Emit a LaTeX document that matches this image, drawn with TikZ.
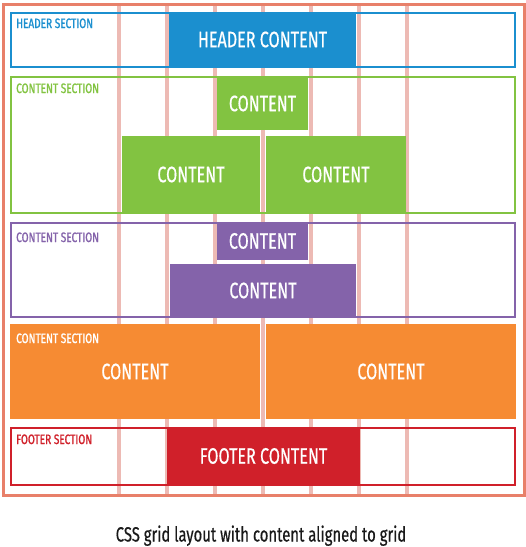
\documentclass[tikz,border=0pt]{standalone}
\usepackage{fontspec}
\setmainfont{Fira Sans}[FakeStretch=0.72, FakeBold=0.5]
\newfontfamily\labelfont{Fira Sans}[FakeStretch=0.74, FakeBold=1.2]
\usetikzlibrary{positioning}
\definecolor{gridpink}{RGB}{237,186,180}
\definecolor{framered}{RGB}{232,128,106}
\definecolor{headblue}{RGB}{27,143,207}
\definecolor{contgreen}{RGB}{130,195,65}
\definecolor{contpurple}{RGB}{132,99,170}
\definecolor{contorange}{RGB}{246,139,51}
\definecolor{footred}{RGB}{208,32,42}
\tikzset{
  gridline/.style={draw=gridpink, line width=4.4pt},
  sectionbox/.style={draw=#1, line width=2pt, anchor=north west,
    inner sep=0pt, outer sep=0pt},
  contentbox/.style={fill=#1, text=white, anchor=north west,
    inner sep=0pt, outer sep=0pt, font=\fontsize{22.4}{22.4}\selectfont},
  sectionlabel/.style={text=#1, anchor=base west, inner sep=0pt,
    font=\labelfont\fontsize{13.6}{13.6}\selectfont}
}

\begin{document}
\begin{tikzpicture}[x=1pt, y=-1pt]
\useasboundingbox (0,0) rectangle (526,547);

% grid columns
\foreach \x in {119,167,215,263,311,359,407}
  \draw[gridline] (\x,3) -- (\x,494);

% header
\node[sectionbox=headblue, minimum width=504pt, minimum height=54pt] (header) at (11,13) {};
\node[contentbox=headblue, minimum width=187pt, minimum height=55pt] (headcontent) at (169,12) {HEADER CONTENT};
\node[sectionlabel=headblue] (headlabel) at (16,28) {HEADER SECTION};

% green section
\node[sectionbox=contgreen, minimum width=504pt, minimum height=136pt] (greensec) at (11,77) {};
\node[contentbox=contgreen, minimum width=91pt, minimum height=53pt] (greentop) at (217,77) {CONTENT};
\node[contentbox=contgreen, minimum width=138pt, minimum height=77pt] (greenleft) at (122,136) {CONTENT};
\node[contentbox=contgreen, minimum width=140pt, minimum height=77pt] (greenright) at (266,136) {CONTENT};
\node[sectionlabel=contgreen] (greenlabel) at (16,93) {CONTENT SECTION};

% purple section
\node[sectionbox=contpurple, minimum width=504pt, minimum height=94pt] (purplesec) at (11,223) {};
\node[contentbox=contpurple, minimum width=91pt, minimum height=38pt] (purpletop) at (217,222) {CONTENT};
\node[contentbox=contpurple, minimum width=186pt, minimum height=53pt] (purplebottom) at (170,264) {CONTENT};
\node[sectionlabel=contpurple] (purplelabel) at (16,242) {CONTENT SECTION};

% orange section
\node[contentbox=contorange, minimum width=250pt, minimum height=95pt] (orangeleft) at (10,324) {CONTENT};
\node[contentbox=contorange, minimum width=250pt, minimum height=95pt] (orangeright) at (266,324) {CONTENT};
\node[sectionlabel=white] (orangelabel) at (16,343) {CONTENT SECTION};

% footer
\node[sectionbox=footred, minimum width=504pt, minimum height=57pt] (footer) at (11,428) {};
\node[contentbox=footred, minimum width=193pt, minimum height=58pt] (footcontent) at (167,427) {FOOTER CONTENT};
\node[sectionlabel=footred] (footlabel) at (16,444) {FOOTER SECTION};

% outer frame
\node[draw=framered, line width=3pt, anchor=north west, inner sep=0pt,
  minimum width=521.5pt, minimum height=491pt] (frame) at (1.5,3) {};

\node[anchor=base, inner sep=0pt, text=black!90,
  font=\fontsize{20.6}{20.6}\selectfont] (caption) at (261,541.5)
  {CSS grid layout with content aligned to grid};
\end{tikzpicture}
\end{document}
